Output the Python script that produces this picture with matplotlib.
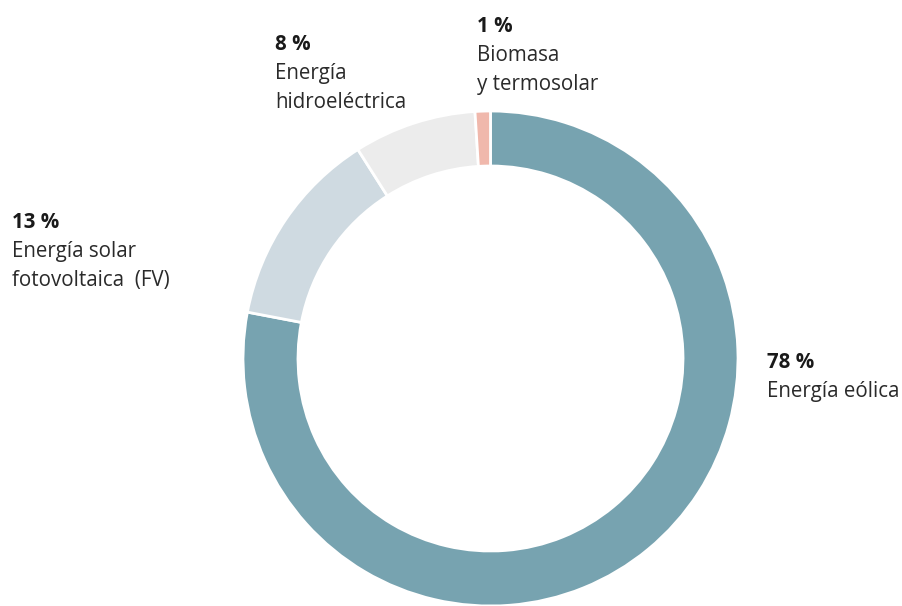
import matplotlib
matplotlib.use('Agg')
from matplotlib import pyplot as plt

shares = [78, 13, 8, 1]
pct_labels = ["78 %", "13 %", "8 %", "1 %"]
names = ["Energía eólica", "Energía solar\nfotovoltaica  (FV)", "Energía\nhidroeléctrica", "Biomasa\ny termosolar"]
colors = ["#77a3b0", "#cfdae1", "#ececec", "#f0b8ac"]

plt.rcParams['font.family'] = ['Open Sans', 'DejaVu Sans']

W, H = 903, 606
fig = plt.figure(figsize=(W / 100, H / 100), dpi=100)
ax = fig.add_axes([0, 0, 1, 1])

cx, cy, r = 490.5, H - 358.5, 247.5
ax.pie(shares, colors=colors, startangle=90, counterclock=False,
       center=(cx, cy), radius=r, frame=True,
       wedgeprops=dict(width=55, edgecolor='white', linewidth=2))
ax.set_xlim(0, W)
ax.set_ylim(0, H)
ax.set_aspect('equal')
ax.axis('off')

# label anchors (x, baseline of first line) in pixel coords from top
anchors = [(767, 368), (12, 228), (275, 50), (477, 32)]
for (x, y), p, n in zip(anchors, pct_labels, names):
    ax.text(x, H - y, p, fontsize=14.8, fontweight='bold', color='#1a1a1a', va='baseline')
    for i, line in enumerate(n.split("\n")):
        ax.text(x, H - y - 29 * (i + 1), line, fontsize=14.8, color='#2a2a2a', va='baseline')

fig.savefig("out.png", dpi=100, facecolor='white')
